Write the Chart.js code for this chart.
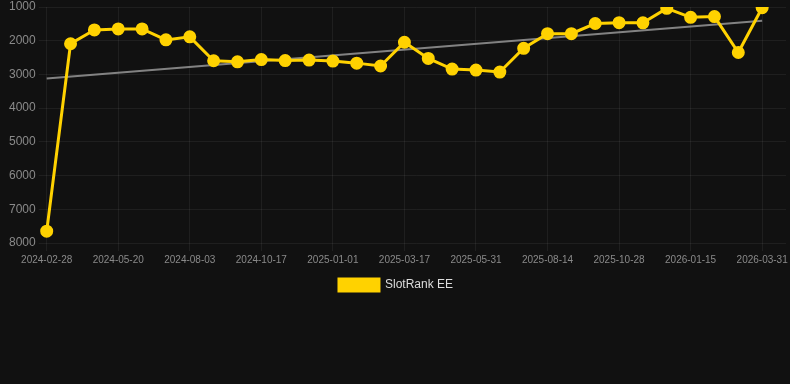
<!DOCTYPE html>
<html>
<head>
<meta charset="utf-8">
<script src="https://cdn.jsdelivr.net/npm/chart.js@4/dist/chart.umd.min.js"></script>
<style>
  html, body { margin: 0; padding: 0; background: #111111; }
  #wrap { position: relative; width: 790px; height: 301px; }
</style>
</head>
<body>
<div id="wrap"><canvas id="slot-rank"></canvas></div>
<script>
// dates of each sample (every 3rd one shows on the axis), last entry is an empty slot
const dates = [
  '2024-02-28', '2024-03-25', '2024-04-22', '2024-05-20', '2024-06-14', '2024-07-09',
  '2024-08-03', '2024-08-28', '2024-09-22', '2024-10-17', '2024-11-11', '2024-12-06',
  '2025-01-01', '2025-01-26', '2025-02-20', '2025-03-17', '2025-04-11', '2025-05-06',
  '2025-05-31', '2025-06-25', '2025-07-20', '2025-08-14', '2025-09-08', '2025-10-03',
  '2025-10-28', '2025-11-23', '2025-12-19', '2026-01-15', '2026-02-09', '2026-03-06',
  '2026-03-31', '',
];

// rank values
const rank = [
  7650, 2090, 1680, 1650, 1650, 1975, 1885, 2595, 2625, 2560, 2590,
  2575, 2605, 2665, 2750, 2045, 2525, 2840, 2870, 2930, 2225, 1790,
  1790, 1490, 1465, 1470, 1040, 1305, 1285, 2350, 1020,
];

// trend line end points
const trendStart = 3120;
const trendEnd = 1410;

const trend = rank.map((v, i) => {
  if (i === 0) return trendStart;
  if (i === rank.length - 1) return trendEnd;
  return null;
});

const yTicks = [1000, 2000, 3000, 4000, 5000, 6000, 7000, 8000];

const yellow = '#ffd200';
const gridColor = 'rgba(255,255,255,0.06)';
const tickColor = '#8a8a8a';

const ctx = document.getElementById('slot-rank');

new Chart(ctx, {
  type: 'line',
  data: {
    labels: dates,
    datasets: [
      {
        label: 'SlotRank EE',
        data: rank,
        borderColor: yellow,
        backgroundColor: yellow,
        borderWidth: 3,
        pointRadius: 5,
        pointBackgroundColor: yellow,
        pointBorderColor: yellow,
        tension: 0,
      },
      {
        label: 'Trend',
        data: trend,
        borderColor: 'rgba(150,150,150,0.85)',
        borderWidth: 2,
        pointRadius: 0,
        spanGaps: true,
      },
    ],
  },
  options: {
    responsive: true,
    maintainAspectRatio: false,
    animation: false,
    layout: {
      autoPadding: false,
      padding: { top: 0, right: 4, bottom: 0, left: 6 },
    },
    scales: {
      x: {
        grid: { color: gridColor, tickLength: 8 },
        border: { display: false },
        ticks: {
          color: tickColor,
          font: { family: 'Liberation Sans, Arial, sans-serif', size: 10 },
          maxRotation: 0,
          autoSkip: true,
          maxTicksLimit: 11,
          padding: 3,
        },
        afterFit: (scale) => {
          scale.paddingRight = 0;
        },
      },
      y: {
        reverse: true,
        min: 1000,
        max: 8000,
        afterBuildTicks: (scale) => {
          scale.ticks = yTicks.map(v => ({ value: v }));
        },
        afterFit: (scale) => {
          scale.paddingTop = 7;
        },
        grid: { color: gridColor, tickLength: 8 },
        border: { display: false },
        ticks: {
          color: tickColor,
          font: { family: 'Liberation Sans, Arial, sans-serif', size: 12 },
          padding: 3,
          callback: (v) => String(v),
        },
      },
    },
    plugins: {
      legend: {
        position: 'bottom',
        labels: {
          color: '#dddddd',
          boxWidth: 40,
          boxHeight: 12,
          font: { family: 'Liberation Sans, Arial, sans-serif', size: 12 },
          filter: (item) => item.datasetIndex === 0,
        },
      },
      tooltip: { enabled: false },
    },
  },
});
</script>
</body>
</html>
